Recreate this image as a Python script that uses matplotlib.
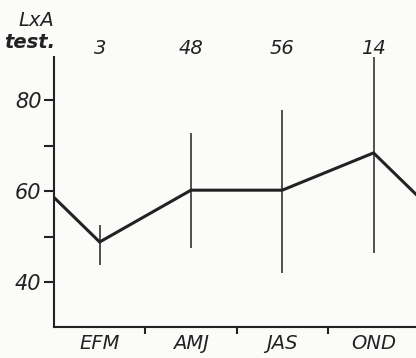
import numpy as np
import matplotlib
matplotlib.use("Agg")
import matplotlib.pyplot as plt

# seasonal means of the LxA test, with range bars and sample sizes
seasons = ["EFM", "AMJ", "JAS", "OND"]
means = [48.8, 60.2, 60.2, 68.4]
low = [43.7, 47.5, 42.0, 46.4]
high = [52.5, 72.7, 77.8, 89.5]
n_tests = ["3", "48", "56", "14"]
yticks_major = [40, 60, 80]
yticks_minor = [50, 70]

ink = "#222222"
plt.rcParams["font.family"] = "DejaVu Sans"

fig = plt.figure(figsize=(4.16, 3.58), dpi=100, facecolor="#fbfbf9")
# axes run past the right edge of the picture, like the cropped scan
ax = fig.add_axes([54 / 416, 31 / 358, 5 * 91.3 / 416, 270 / 358])
ax.set_facecolor("none")

x = np.arange(len(seasons))
# the curve is cyclic: previous OND on the left, next EFM on the right
xc = np.concatenate([[x[0] - 1], x, [x[-1] + 1]])
yc = np.concatenate([[means[-1]], means, [means[0]]])
ax.plot(xc, yc, color=ink, lw=2.2, solid_joinstyle="miter")
ax.vlines(x, low, high, color=ink, lw=1.1)

ax.set_xlim(-0.5, 4.5)
ax.set_ylim(30.1, 89.5)

for s in ["top", "right"]:
    ax.spines[s].set_visible(False)
for s in ["left", "bottom"]:
    ax.spines[s].set_linewidth(1.5)
    ax.spines[s].set_color(ink)

ax.set_yticks(yticks_major)
ax.set_yticklabels([str(v) for v in yticks_major], fontsize=15, style="italic", color=ink)
ax.set_yticks(yticks_minor, minor=True)
ax.tick_params(axis="y", which="both", direction="out", length=7, width=1.5, color=ink, pad=2)

ax.set_xticks(x + 0.5)
ax.set_xticklabels([])
ax.tick_params(axis="x", which="major", direction="out", length=5, width=1.5, color=ink)
ax.set_xticks(x, minor=True)
ax.set_xticklabels(seasons, minor=True, fontsize=14, style="italic", color=ink)
ax.tick_params(axis="x", which="minor", length=0, pad=5)

for xi, t in zip(x, n_tests):
    ax.text(xi, 91.4, t, ha="center", va="center", fontsize=14, style="italic",
            color=ink, clip_on=False)

fig.text(36 / 416, 1 - 20 / 358, "LxA", ha="center", va="center", fontsize=14,
         style="italic", color=ink)
fig.text(30 / 416, 1 - 43 / 358, "test.", ha="center", va="center", fontsize=14,
         style="italic", weight="bold", color=ink)

fig.savefig("out.png", dpi=100, facecolor=fig.get_facecolor())
